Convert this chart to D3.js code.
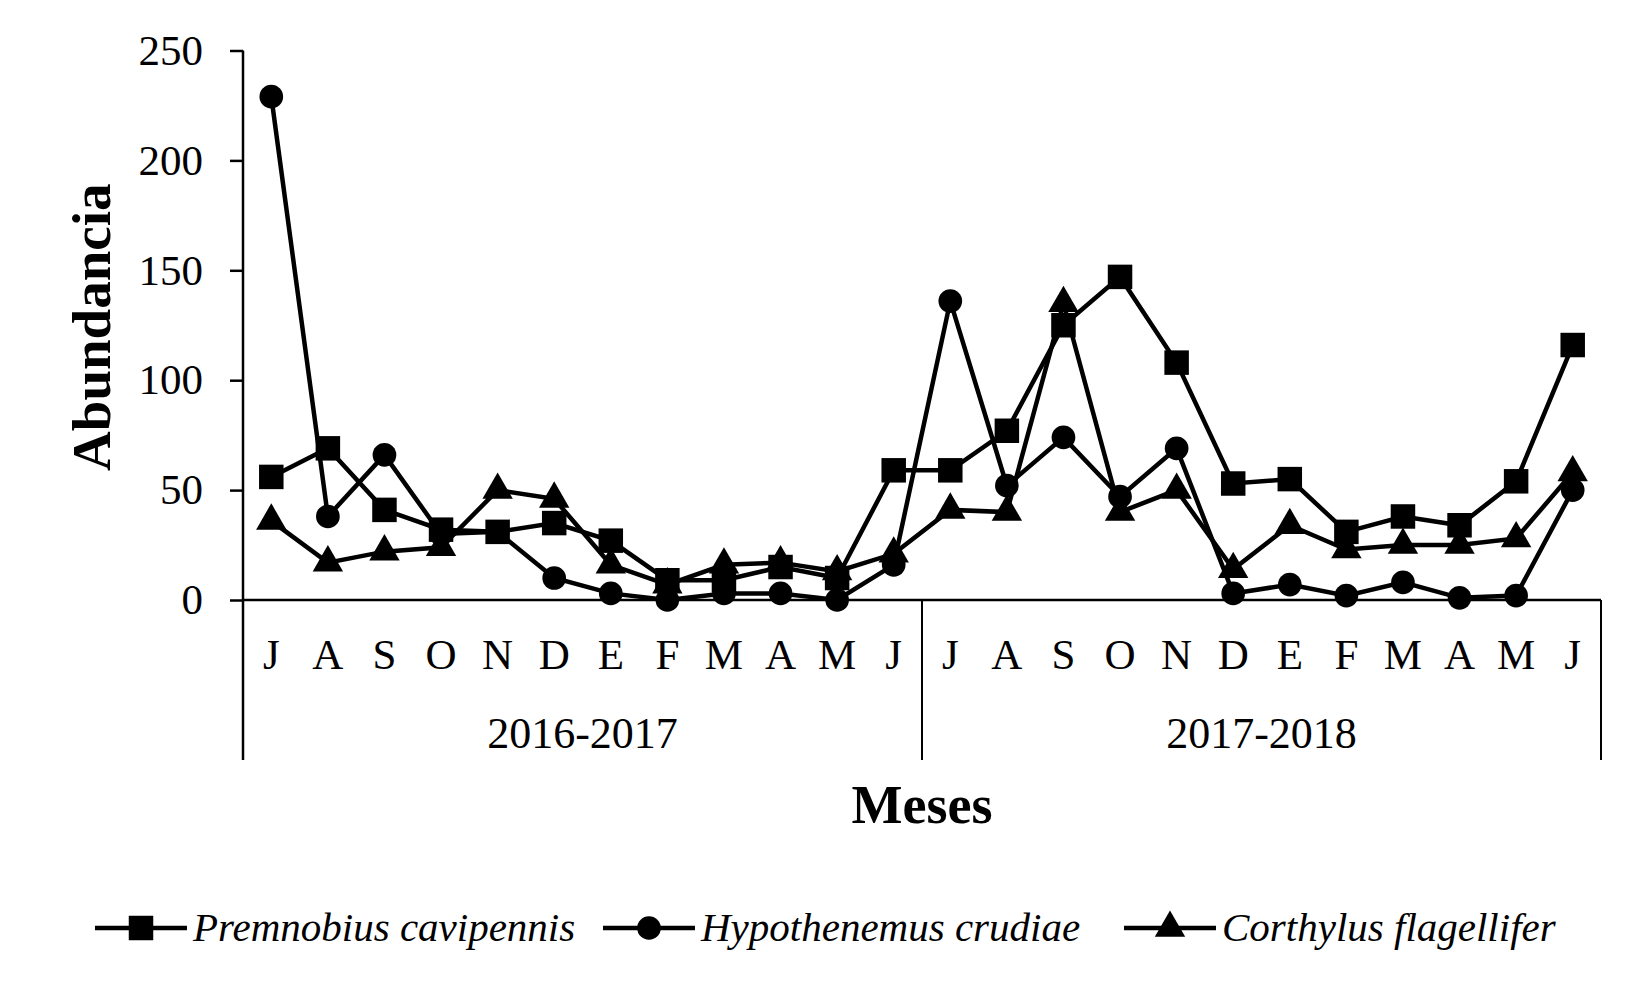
<!DOCTYPE html>
<html>
<head>
<meta charset="utf-8">
<script src="https://cdn.jsdelivr.net/npm/d3@7"></script>
<style>
  body { margin: 0; background: #fff; }
  svg { display: block; font-family: "Liberation Serif", "Times New Roman", serif; }
</style>
</head>
<body>
<svg id="chart" width="1650" height="990"></svg>
<script>
// meses (dos temporadas)
const meses = ['J','A','S','O','N','D','E','F','M','A','M','J',
               'J','A','S','O','N','D','E','F','M','A','M','J']
const temporadas = ['2016-2017', '2017-2018']
const yTicks = [0, 50, 100, 150, 200, 250]

const premnobius = [56, 69, 41, 32, 31, 35, 27, 9, 9, 15, 10, 59,
                    59, 77, 125, 147, 108, 53, 55, 31, 38, 34, 54, 116]
const hypothenemus = [229, 38, 66, 30, 31, 10, 3, 0, 3, 3, 0, 16,
                      136, 52, 74, 47, 69, 3, 7, 2, 8, 1, 2, 50]
const corthylus = [36, 17, 22, 24, 50, 46, 16, 7, 16, 17, 13, 21,
                   41, 40, 135, 40, 50, 14, 34, 23, 25, 25, 28, 58]

const series = [
  { nombre: 'Premnobius cavipennis', valores: premnobius, simbolo: d3.symbolSquare, tam: 600 },
  { nombre: 'Hypothenemus crudiae', valores: hypothenemus, simbolo: d3.symbolCircle, tam: 440 },
  { nombre: 'Corthylus flagellifer', valores: corthylus, simbolo: d3.symbolTriangle, tam: 400 }
]

const svg = d3.select('#chart')
const izq = 243, der = 1601, arriba = 50.5, cero = 600, fondo = 760

const x = d3.scaleBand()
  .domain(d3.range(meses.length))
  .range([izq, der])

const y = d3.scaleLinear()
  .domain([0, 250])
  .range([cero, arriba])

// eje y
const ejeY = svg.append('g')
  .attr('transform', `translate(${izq},0)`)
  .call(d3.axisLeft(y).tickValues(yTicks).tickSize(13).tickPadding(27))
ejeY.select('.domain').remove()
ejeY.selectAll('line').attr('stroke', '#000').attr('stroke-width', 2.5)
ejeY.selectAll('text')
  .attr('font-size', 43)
  .attr('fill', '#000')
  .attr('font-family', '"Liberation Serif", serif')

svg.append('line')
  .attr('x1', izq).attr('x2', izq)
  .attr('y1', arriba).attr('y2', fondo)
  .attr('stroke', '#000').attr('stroke-width', 2.5)

// eje x
svg.append('line')
  .attr('x1', izq).attr('x2', der)
  .attr('y1', cero).attr('y2', cero)
  .attr('stroke', '#000').attr('stroke-width', 2.5)

const mitad = x(12)
;[mitad, der].forEach(px =>
  svg.append('line')
    .attr('x1', px).attr('x2', px)
    .attr('y1', cero).attr('y2', fondo)
    .attr('stroke', '#000').attr('stroke-width', 2))

svg.append('g').selectAll('text')
  .data(meses)
  .enter().append('text')
  .attr('x', (d, i) => x(i) + x.bandwidth() / 2)
  .attr('y', 669)
  .attr('text-anchor', 'middle')
  .attr('font-size', 43)
  .text(d => d)

svg.append('g').selectAll('text')
  .data(temporadas)
  .enter().append('text')
  .attr('x', (d, i) => (x(i * 12) + (i === 0 ? mitad : der)) / 2)
  .attr('y', 748)
  .attr('text-anchor', 'middle')
  .attr('font-size', 44)
  .text(d => d)

svg.append('text')
  .attr('x', (izq + der) / 2)
  .attr('y', 823)
  .attr('text-anchor', 'middle')
  .attr('font-size', 54)
  .attr('font-weight', 'bold')
  .text('Meses')

svg.append('text')
  .attr('transform', `translate(110,${(arriba + cero) / 2 + 2}) rotate(-90)`)
  .attr('text-anchor', 'middle')
  .attr('font-size', 55)
  .attr('font-weight', 'bold')
  .text('Abundancia')

// series
const linea = d3.line()
  .x((d, i) => x(i) + x.bandwidth() / 2)
  .y(d => y(d))

series.forEach(s => {
  const g = svg.append('g')
  g.append('path')
    .datum(s.valores)
    .attr('d', linea)
    .attr('fill', 'none')
    .attr('stroke', '#000')
    .attr('stroke-width', 4.5)
  g.selectAll('path.m')
    .data(s.valores)
    .enter().append('path')
    .attr('class', 'm')
    .attr('transform', (d, i) => `translate(${x(i) + x.bandwidth() / 2},${y(d)})`)
    .attr('d', d3.symbol().type(s.simbolo).size(s.tam))
    .attr('fill', '#000')
})

// leyenda
const leyX = [95, 603, 1124]
const ley = svg.append('g')
series.forEach((s, i) => {
  const g = ley.append('g').attr('transform', `translate(${leyX[i]},928)`)
  g.append('line')
    .attr('x1', 0).attr('x2', 92)
    .attr('stroke', '#000').attr('stroke-width', 4.5)
  g.append('path')
    .attr('transform', 'translate(46,0)')
    .attr('d', d3.symbol().type(s.simbolo).size(s.tam))
  g.append('text')
    .attr('x', 98)
    .attr('y', 13)
    .attr('font-size', 41)
    .attr('font-style', 'italic')
    .text(s.nombre)
})
</script>
</body>
</html>
